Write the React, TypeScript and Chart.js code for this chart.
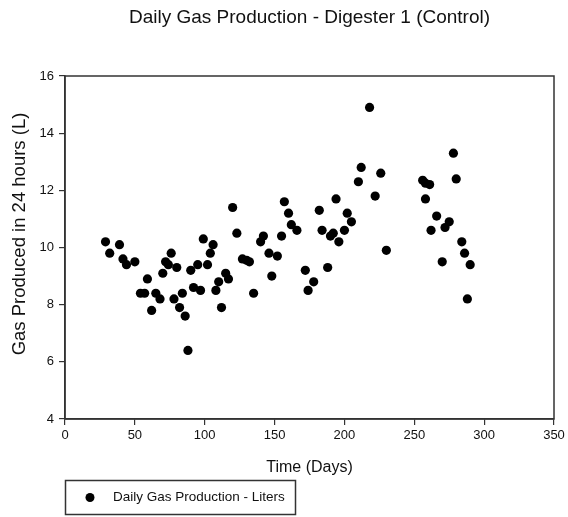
import React, { useEffect, useRef } from "react";
import { Chart, registerables } from "chart.js";

Chart.register(...registerables);

const FONT = "'Liberation Sans', Arial, sans-serif";

const chartTitle = "Daily Gas Production - Digester 1 (Control)";
const xAxisTitle = "Time (Days)";
const yAxisTitle = "Gas Produced in 24 hours (L)";
const seriesLabel = "Daily Gas Production - Liters";

const days = [
  29, 32, 39, 41.5, 44, 50, 54, 57, 59, 62, 65, 68, 70, 72, 74, 76, 78, 80, 82, 84,
  86, 88, 90, 92, 95, 97, 99, 102, 104, 106, 108, 110, 112, 115, 117, 120, 123, 127,
  130, 132, 135, 140, 142, 146, 148, 152, 155, 157, 160, 162, 166, 172, 174, 178,
  182, 184, 188, 190, 192, 194, 196, 200, 202, 205, 210, 212, 218, 222, 226, 230,
  256, 258, 258, 261, 262, 266, 270, 272, 275, 278, 280, 284, 286, 288, 290,
];
const gasLiters = [
  10.2, 9.8, 10.1, 9.6, 9.4, 9.5, 8.4, 8.4, 8.9, 7.8, 8.4, 8.2, 9.1, 9.5, 9.4, 9.8, 8.2,
  9.3, 7.9, 8.4, 7.6, 6.4, 9.2, 8.6, 9.4, 8.5, 10.3, 9.4, 9.8, 10.1, 8.5, 8.8, 7.9, 9.1,
  8.9, 11.4, 10.5, 9.6, 9.55, 9.5, 8.4, 10.2, 10.4, 9.8, 9.0, 9.7, 10.4, 11.6, 11.2, 10.8,
  10.6, 9.2, 8.5, 8.8, 11.3, 10.6, 9.3, 10.4, 10.5, 11.7, 10.2, 10.6, 11.2, 10.9, 12.3,
  12.8, 14.9, 11.8, 12.6, 9.9, 12.35, 12.25, 11.7, 12.2, 10.6, 11.1, 9.5, 10.7, 10.9,
  13.3, 12.4, 10.2, 9.8, 8.2, 9.4,
];
const xTicks = [0, 50, 100, 150, 200, 250, 300, 350];
const yTicks = [4, 6, 8, 10, 12, 14, 16];

export default function App() {
  const ref = useRef<HTMLCanvasElement>(null);

  useEffect(() => {
    document.body.style.margin = "0";
    if (!ref.current) return;

    const framePlugin = {
      id: "frame",
      afterDatasetsDraw(chart: any) {
        const { ctx, chartArea } = chart;
        const { left, top, right, bottom } = chartArea;
        ctx.save();
        ctx.strokeStyle = "#333";
        ctx.lineWidth = 1.5;
        ctx.strokeRect(left, top, right - left, bottom - top);
        ctx.restore();
      },
    };

    const titlesPlugin = {
      id: "titles",
      afterDraw(chart: any) {
        const { ctx, chartArea } = chart;
        ctx.save();
        // chart title, centred over the plot area
        ctx.font = `19px ${FONT}`;
        ctx.fillStyle = "#111";
        ctx.textAlign = "center";
        ctx.textBaseline = "middle";
        ctx.fillText(chartTitle, (chartArea.left + chartArea.right) / 2, 18);
        // y axis title
        ctx.translate(19.5, 234);
        ctx.rotate(-Math.PI / 2);
        ctx.font = `18.5px ${FONT}`;
        ctx.fillText(yAxisTitle, 0, 0);
        ctx.restore();
      },
    };

    const legendPlugin = {
      id: "legendBox",
      afterDraw(chart: any) {
        const { ctx } = chart;
        const ds = chart.data.datasets[0];
        ctx.save();
        ctx.strokeStyle = "#333";
        ctx.lineWidth = 1.5;
        ctx.strokeRect(65.5, 480.5, 230, 34);
        ctx.fillStyle = "#000";
        ctx.beginPath();
        ctx.arc(90, 497.5, 4.5, 0, Math.PI * 2);
        ctx.fill();
        ctx.font = `13.5px ${FONT}`;
        ctx.fillStyle = "#111";
        ctx.textAlign = "left";
        ctx.textBaseline = "middle";
        ctx.fillText(ds.label, 113, 497.5);
        ctx.restore();
      },
    };

    const chart = new Chart(ref.current, {
      type: "scatter",
      data: {
        datasets: [
          {
            label: seriesLabel,
            data: days.map((d, i) => ({ x: d, y: gasLiters[i] })),
            backgroundColor: "#000",
            borderColor: "#000",
            pointRadius: 4.6,
            pointHoverRadius: 4.6,
            borderWidth: 0,
          },
        ],
      },
      options: {
        animation: false,
        responsive: false,
        events: [],
        layout: { padding: { left: 0, right: 14, top: 76, bottom: 0 } },
        plugins: {
          legend: { display: false },
          tooltip: { enabled: false },
          title: { display: false },
        },
        scales: {
          x: {
            type: "linear",
            min: 0,
            max: 350,
            afterBuildTicks: (s: any) => {
              s.ticks = xTicks.map((v) => ({ value: v }));
            },
            afterFit: (s: any) => {
              s.height = 98;
            },
            grid: { drawOnChartArea: false, drawTicks: true, tickLength: 6, color: "#333", lineWidth: 1.2 },
            border: { color: "#333", width: 1.5 },
            ticks: { color: "#111", font: { family: FONT, size: 13 }, padding: 3, maxRotation: 0 },
            title: {
              display: true,
              text: xAxisTitle,
              color: "#111",
              font: { family: FONT, size: 16 },
              padding: { top: 0, bottom: 40 },
            },
          },
          y: {
            type: "linear",
            min: 4,
            max: 16,
            afterBuildTicks: (s: any) => {
              s.ticks = yTicks.map((v) => ({ value: v }));
            },
            afterFit: (s: any) => {
              s.width = 65;
            },
            grid: { drawOnChartArea: false, drawTicks: true, tickLength: 6, color: "#333", lineWidth: 1.2 },
            border: { color: "#333", width: 1.5 },
            ticks: { color: "#111", font: { family: FONT, size: 13 }, padding: 5 },
          },
        },
      },
      plugins: [framePlugin, titlesPlugin, legendPlugin],
    });

    return () => chart.destroy();
  }, []);

  return (
    <div style={{ width: 568, height: 517, background: "#fff" }}>
      <canvas ref={ref} width={568} height={517} style={{ display: "block" }} />
    </div>
  );
}
